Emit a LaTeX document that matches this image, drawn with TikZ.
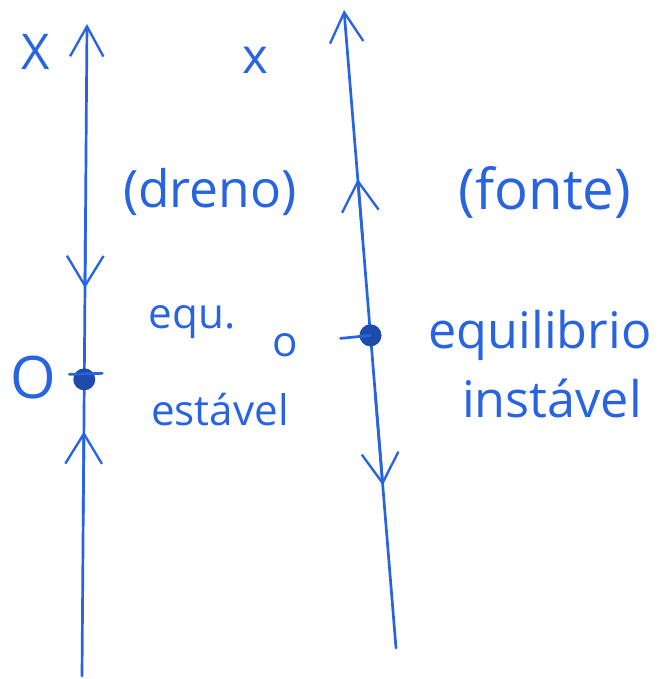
\documentclass[tikz,border=0pt]{standalone}
\usepackage{fontspec}
\setsansfont{Open Sans}
\usetikzlibrary{calc, arrows.meta}

\definecolor{pen}{RGB}{40,100,225}

\tikzset{
  axisline/.style={pen, line width=2.3pt, line cap=round},
  flow/.style={pen, line width=2.3pt, -{Straight Barb[length=9mm, width=11mm, line width=2pt]}},
  hand/.style={pen, font=\sffamily\fontsize{#1}{#1}\selectfont, inner sep=0pt},
  hand/.default=36pt
}

\begin{document}
\begin{tikzpicture}[x=0.03cm, y=-0.03cm]
\useasboundingbox (0,0) rectangle (663,679);

% left phase line (sink)
\coordinate (Lbot) at (82,676);
\coordinate (Ltop) at (87,24);
\coordinate (Ldot) at ($(Ltop)!0.545!(Lbot)$);

\draw[axisline, -{Straight Barb[length=9mm, width=10mm, line width=2pt]}] (Lbot) -- (Ltop);
\draw[flow] ($(Ltop)!0.30!(Lbot)$) -- ($(Ltop)!0.405!(Lbot)$);
\draw[flow] ($(Ltop)!0.75!(Lbot)$) -- ($(Ltop)!0.625!(Lbot)$);
\fill[pen!75!black] (Ldot) circle (11);
\draw[axisline] ($(Ldot)+(-15,-5)$) -- ($(Ldot)+(18,-6)$);

% right phase line (source)
\coordinate (Rbot) at (396,648);
\coordinate (Rtop) at (344,10);
\coordinate (Rdot) at ($(Rtop)!0.51!(Rbot)$);

\draw[axisline, -{Straight Barb[length=9mm, width=10mm, line width=2pt]}] (Rbot) -- (Rtop);
\draw[flow] ($(Rtop)!0.36!(Rbot)$) -- ($(Rtop)!0.265!(Rbot)$);
\draw[flow] ($(Rtop)!0.60!(Rbot)$) -- ($(Rtop)!0.745!(Rbot)$);
\fill[pen!75!black] (Rdot) circle (11);
\draw[axisline] ($(Rdot)+(-30,3)$) -- (Rdot);

% labels
\node[hand=42pt] (xl) at (36,52) {X};
\node[hand=42pt] (xr) at (255,60) {x};
\node[hand=50pt] (zl) at (33,378) {O};
\node[hand=36pt] (zr) at (285,345) {o};

\node[hand=44pt] (dreno) at (210,192) {(dreno)};
\node[hand=36pt] (equ) at (192,322) {equ.};
\node[hand=36pt] (est) at (220,410) {estável};

\node[hand=48pt] (fonte) at (545,192) {(fonte)};
\node[hand=43pt] (equi) at (540,335) {equilibrio};
\node[hand=43pt] (inst) at (552,398) {instável};
\end{tikzpicture}
\end{document}
